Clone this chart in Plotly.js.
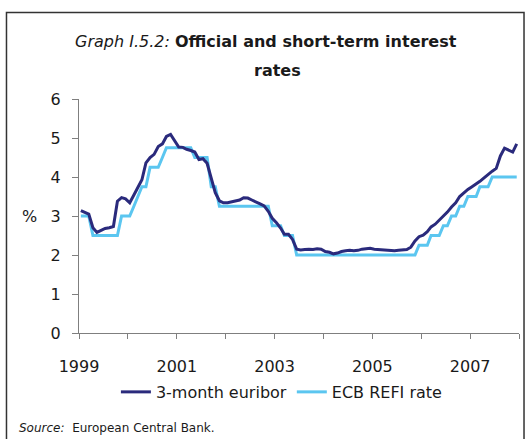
<!DOCTYPE html>
<html>
<head>
<meta charset="utf-8">
<script src="https://cdn.plot.ly/plotly-3.0.1.min.js"></script>
<style>html,body{margin:0;padding:0;background:#fff;}#chart{width:526px;height:439px;}</style>
</head>
<body>
<div id="chart"></div>
<script>
// Years covered (monthly data, Jan..Dec of each year)
const years = [1999, 2000, 2001, 2002, 2003, 2004, 2005, 2006, 2007];

// 3-month euribor, monthly (%)
const euribor = [
  [3.14, 3.09, 3.05, 2.70, 2.58, 2.63, 2.68, 2.70, 2.73, 3.38, 3.47, 3.44],
  [3.34, 3.54, 3.75, 3.93, 4.36, 4.50, 4.58, 4.78, 4.85, 5.04, 5.09, 4.94],
  [4.77, 4.76, 4.71, 4.68, 4.64, 4.45, 4.47, 4.35, 3.98, 3.60, 3.39, 3.34],
  [3.34, 3.36, 3.39, 3.41, 3.47, 3.46, 3.41, 3.35, 3.31, 3.26, 3.12, 2.94],
  [2.83, 2.69, 2.53, 2.53, 2.40, 2.15, 2.13, 2.14, 2.15, 2.14, 2.16, 2.15],
  [2.09, 2.07, 2.03, 2.05, 2.09, 2.11, 2.12, 2.11, 2.12, 2.15, 2.17, 2.17],
  [2.15, 2.14, 2.14, 2.14, 2.13, 2.11, 2.12, 2.13, 2.14, 2.20, 2.36, 2.47],
  [2.51, 2.60, 2.72, 2.79, 2.89, 2.99, 3.10, 3.23, 3.34, 3.50, 3.60, 3.68],
  [3.75, 3.82, 3.89, 3.98, 4.07, 4.15, 4.22, 4.54, 4.74, 4.69, 4.64, 4.85]
];

// ECB main refinancing rate, monthly (%)
const ecbRefi = [
  [3.00, 3.00, 3.00, 2.50, 2.50, 2.50, 2.50, 2.50, 2.50, 2.50, 3.00, 3.00],
  [3.00, 3.25, 3.50, 3.75, 3.75, 4.25, 4.25, 4.25, 4.50, 4.75, 4.75, 4.75],
  [4.75, 4.75, 4.75, 4.75, 4.50, 4.50, 4.50, 4.50, 3.75, 3.75, 3.25, 3.25],
  [3.25, 3.25, 3.25, 3.25, 3.25, 3.25, 3.25, 3.25, 3.25, 3.25, 3.25, 2.75],
  [2.75, 2.75, 2.50, 2.50, 2.50, 2.00, 2.00, 2.00, 2.00, 2.00, 2.00, 2.00],
  [2.00, 2.00, 2.00, 2.00, 2.00, 2.00, 2.00, 2.00, 2.00, 2.00, 2.00, 2.00],
  [2.00, 2.00, 2.00, 2.00, 2.00, 2.00, 2.00, 2.00, 2.00, 2.00, 2.00, 2.25],
  [2.25, 2.25, 2.50, 2.50, 2.50, 2.75, 2.75, 3.00, 3.00, 3.25, 3.25, 3.50],
  [3.50, 3.50, 3.75, 3.75, 3.75, 4.00, 4.00, 4.00, 4.00, 4.00, 4.00, 4.00]
];

const seriesNames = ['3-month euribor', 'ECB REFI rate'];
const yTickVals = [0, 1, 2, 3, 4, 5, 6];

// Monthly dates (mid-month) built from the years list
const dates = [];
years.forEach(y => { for (let m = 1; m <= 12; m++) dates.push(y + '-' + String(m).padStart(2, '0') + '-15'); });
const flat = a => a.reduce((acc, r) => acc.concat(r), []);

const FONT = 'DejaVu Sans, Liberation Sans, Arial, sans-serif';
const axisCol = '#7f7f7f';

const traces = [
  { x: dates, y: flat(ecbRefi), name: seriesNames[1], type: 'scatter', mode: 'lines',
    line: { color: '#5bc6f0', width: 3 } },
  { x: dates, y: flat(euribor), name: seriesNames[0], type: 'scatter', mode: 'lines',
    line: { color: '#2a2a7c', width: 3 } }
];

const layout = {
  width: 526, height: 439,
  margin: { l: 79, r: 7, t: 99, b: 106 },
  paper_bgcolor: '#ffffff', plot_bgcolor: '#ffffff',
  font: { family: FONT, size: 16, color: '#1a1a1a' },
  showlegend: true,
  legend: { orientation: 'h', x: 0.46, xanchor: 'center', y: -0.252, yanchor: 'middle',
            font: { family: FONT, size: 16, color: '#1a1a1a' }, traceorder: 'reversed',
            itemwidth: 30, bgcolor: 'rgba(0,0,0,0)' },
  xaxis: {
    type: 'date', range: ['1999-01-01', '2008-01-01'],
    tick0: '1999-01-01', dtick: 'M24', tickformat: '%Y',
    ticks: 'outside', ticklen: 5, tickcolor: axisCol, tickwidth: 1,
    minor: { dtick: 'M12', tick0: '1999-01-01', ticks: 'outside', ticklen: 5, tickcolor: axisCol, tickwidth: 1, showgrid: false },
    showline: true, linecolor: axisCol, linewidth: 1,
    showgrid: false, zeroline: false, fixedrange: true,
    ticklabelstandoff: 14,
    tickfont: { family: FONT, size: 16, color: '#1a1a1a' }
  },
  yaxis: {
    range: [0, 6], tickvals: yTickVals,
    ticks: 'outside', ticklen: 6, tickcolor: axisCol, tickwidth: 1,
    showline: true, linecolor: axisCol, linewidth: 1,
    showgrid: false, zeroline: false, fixedrange: true,
    ticklabelstandoff: 8,
    tickfont: { family: FONT, size: 16, color: '#1a1a1a' }
  },
  shapes: [
    { type: 'rect', xref: 'paper', yref: 'paper', x0: -0.1648, x1: 1.0114, y0: 1.37, y1: -0.48,
      line: { color: '#333333', width: 1.5 }, fillcolor: 'rgba(0,0,0,0)', layer: 'below' }
  ],
  annotations: [
    { xref: 'paper', yref: 'paper', x: 0.424, y: 1.2436, xanchor: 'center', yanchor: 'middle', showarrow: false,
      text: '<i>Graph I.5.2:</i> <b>Official and short-term interest</b>',
      font: { family: FONT, size: 16, color: '#1a1a1a' } },
    { xref: 'paper', yref: 'paper', x: 0.45, y: 1.1197, xanchor: 'center', yanchor: 'middle', showarrow: false,
      text: '<b>rates</b>', font: { family: FONT, size: 16, color: '#1a1a1a' } },
    { xref: 'paper', yref: 'y', x: -0.1125, y: 3, xanchor: 'center', yanchor: 'middle', showarrow: false,
      text: '%', font: { family: FONT, size: 16, color: '#1a1a1a' } },
    { xref: 'paper', yref: 'paper', x: -0.1409, y: -0.406, xanchor: 'left', yanchor: 'middle', showarrow: false,
      text: '<i>Source:</i>  European Central Bank.', font: { family: FONT, size: 12, color: '#1a1a1a' } }
  ]
};

Plotly.newPlot('chart', traces, layout, { displayModeBar: false, staticPlot: true });
</script>
</body>
</html>
